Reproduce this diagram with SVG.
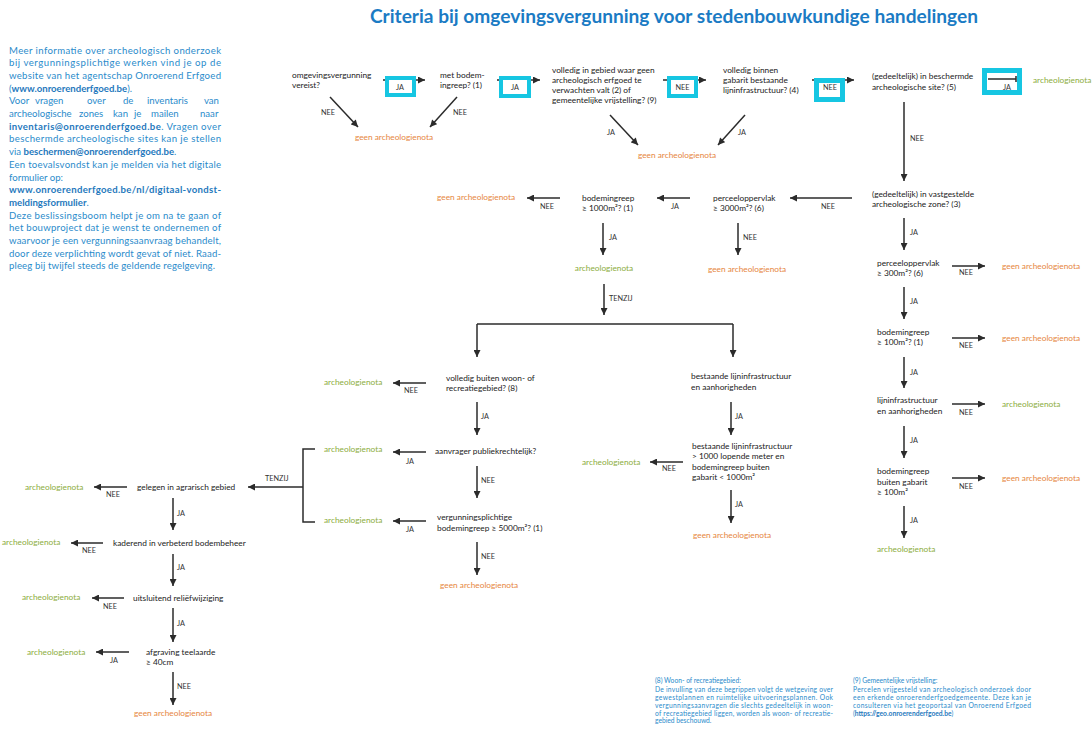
<svg xmlns="http://www.w3.org/2000/svg" width="1092" height="742" viewBox="0 0 1092 742">
<defs>
<marker id="ah" viewBox="0 0 10 10" refX="10" refY="5" markerWidth="8" markerHeight="7" markerUnits="userSpaceOnUse" orient="auto">
<path d="M0,0 L10,5 L0,10 z" fill="#2b2b2b"/>
</marker>
<style>
text{font-family:Lato,"Liberation Sans",sans-serif;}
.t{font-size:8.3px;fill:#222;}
.l{font-size:7.3px;fill:#333;}
.g{font-size:8.3px;fill:#e6863e;}
.a{font-size:8.3px;fill:#8cad3e;}
.b{font-size:9.6px;fill:#2a8bcb;}
.f{font-size:6.7px;fill:#2a8bcb;}
.bold{font-weight:bold;fill:#1f79bd;}
.c line,.c path{stroke:#2b2b2b;stroke-width:1.5;fill:none;}
.c .arr{marker-end:url(#ah);}
.hl{fill:#fff;stroke:#16c6e2;}
</style>
</defs>
<rect width="1092" height="742" fill="#fff"/>

<text x="370" y="23" font-size="19" font-weight="bold" fill="#1b7bc4" textLength="608" lengthAdjust="spacingAndGlyphs">Criteria bij omgevingsvergunning voor stedenbouwkundige handelingen</text>

<g id="info" class="b">
<text class="b" x="9" y="53.5" textLength="212" lengthAdjust="spacing">Meer informatie over archeologisch onderzoek</text>
<text class="b" x="9" y="66.2" textLength="212" lengthAdjust="spacing">bij vergunningsplichtige werken vind je op de</text>
<text class="b" x="9" y="78.9" textLength="212" lengthAdjust="spacing">website van het agentschap Onroerend Erfgoed</text>
<text class="b" x="9" y="91.6">(<tspan class="bold">www.onroerenderfgoed.be</tspan>).</text>
<text class="b" y="104.3"><tspan x="9">Voor</tspan><tspan x="35">vragen</tspan><tspan x="87">over</tspan><tspan x="123">de</tspan><tspan x="147">inventaris</tspan><tspan x="204">van</tspan></text>
<text class="b" y="117"><tspan x="9">archeologische</tspan><tspan x="79">zones</tspan><tspan x="113">kan</tspan><tspan x="134">je</tspan><tspan x="151">mailen</tspan><tspan x="200">naar</tspan></text>
<text class="b" x="9" y="129.7" textLength="212" lengthAdjust="spacing"><tspan class="bold">inventaris@onroerenderfgoed.be</tspan>. Vragen over</text>
<text class="b" x="9" y="142.4" textLength="212" lengthAdjust="spacing">beschermde archeologische sites kan je stellen</text>
<text class="b" x="9" y="155.1">via <tspan class="bold">beschermen@onroerenderfgoed.be</tspan>.</text>
<text class="b" x="9" y="167.8" textLength="212" lengthAdjust="spacing">Een toevalsvondst kan je melden via het digitale</text>
<text class="b" x="9" y="180.5">formulier op:</text>
<text class="b" x="9" y="193.2" textLength="212" lengthAdjust="spacing"><tspan class="bold">www.onroerenderfgoed.be/nl/digitaal-vondst-</tspan></text>
<text class="b" x="9" y="205.9"><tspan class="bold">meldingsformulier</tspan>.</text>
<text class="b" x="9" y="218.6" textLength="212" lengthAdjust="spacing">Deze beslissingsboom helpt je om na te gaan of</text>
<text class="b" x="9" y="231.3" textLength="212" lengthAdjust="spacing">het bouwproject dat je wenst te ondernemen of</text>
<text class="b" x="9" y="244" textLength="212" lengthAdjust="spacing">waarvoor je een vergunningsaanvraag behandelt,</text>
<text class="b" x="9" y="256.7" textLength="212" lengthAdjust="spacing">door deze verplichting wordt gevat of niet. Raad-</text>
<text class="b" x="9" y="269.4" textLength="206" lengthAdjust="spacing">pleeg bij twijfel steeds de geldende regelgeving.</text>
</g>

<g id="connectors" class="c">
<line class="arr" x1="383" y1="80" x2="425" y2="80"/>
<line class="arr" x1="497" y1="80" x2="540" y2="80"/>
<line class="arr" x1="663" y1="80" x2="706" y2="80"/>
<line class="arr" x1="812" y1="80" x2="854" y2="80"/>
<line class="arr" x1="330" y1="97" x2="358" y2="127"/>
<line class="arr" x1="457" y1="97" x2="430" y2="127"/>
<line class="arr" x1="610" y1="115" x2="638" y2="145"/>
<line class="arr" x1="745" y1="115" x2="718" y2="145"/>
<line class="arr" x1="904" y1="102" x2="904" y2="181"/>
<line class="arr" x1="852" y1="198" x2="790" y2="198"/>
<line class="arr" x1="690" y1="198" x2="657" y2="198"/>
<line class="arr" x1="560" y1="198" x2="527" y2="198"/>
<line class="arr" x1="603" y1="223" x2="603" y2="255"/>
<line class="arr" x1="738" y1="223" x2="738" y2="255"/>
<line class="arr" x1="604" y1="284" x2="604" y2="315"/>
<path d="M477,324 H733"/>
<line class="arr" x1="477" y1="324" x2="477" y2="357"/>
<line class="arr" x1="733" y1="324" x2="733" y2="357"/>
<line class="arr" x1="904" y1="218" x2="904" y2="250"/>
<line class="arr" x1="952" y1="266" x2="985" y2="266"/>
<line class="arr" x1="904" y1="287" x2="904" y2="319"/>
<line class="arr" x1="952" y1="338" x2="985" y2="338"/>
<line class="arr" x1="904" y1="357" x2="904" y2="388"/>
<line class="arr" x1="952" y1="404" x2="985" y2="404"/>
<line class="arr" x1="904" y1="426" x2="904" y2="458"/>
<line class="arr" x1="952" y1="478" x2="985" y2="478"/>
<line class="arr" x1="904" y1="506" x2="904" y2="538"/>
<line class="arr" x1="426" y1="383" x2="393" y2="383"/>
<line class="arr" x1="477" y1="402" x2="477" y2="435"/>
<line class="arr" x1="426" y1="452" x2="393" y2="452"/>
<line class="arr" x1="477" y1="466" x2="477" y2="498"/>
<line class="arr" x1="426" y1="521" x2="393" y2="521"/>
<line class="arr" x1="477" y1="542" x2="477" y2="575"/>
<path d="M315,449 H303 V522 H315"/>
<line class="arr" x1="303" y1="487" x2="248" y2="487"/>
<line class="arr" x1="731" y1="402" x2="731" y2="435"/>
<line class="arr" x1="683" y1="462" x2="650" y2="462"/>
<line class="arr" x1="731" y1="490" x2="731" y2="523"/>
<line class="arr" x1="127" y1="487" x2="94" y2="487"/>
<line class="arr" x1="173" y1="498" x2="173" y2="530"/>
<line class="arr" x1="103" y1="543" x2="71" y2="543"/>
<line class="arr" x1="173" y1="554" x2="173" y2="586"/>
<line class="arr" x1="124" y1="598" x2="92" y2="598"/>
<line class="arr" x1="173" y1="608" x2="173" y2="642"/>
<line class="arr" x1="129" y1="652" x2="96" y2="652"/>
<line class="arr" x1="173" y1="672" x2="173" y2="705"/>
</g>

<g id="highlights">
<rect class="hl" x="387" y="78" width="27" height="17" stroke-width="4"/>
<rect class="hl" x="501" y="78" width="28" height="18" stroke-width="4"/>
<rect class="hl" x="669" y="78" width="27" height="18" stroke-width="4"/>
<rect class="hl" x="816.5" y="80.5" width="26" height="19" stroke-width="5"/>
<rect class="hl" x="984.5" y="70.5" width="35" height="22" stroke-width="5"/>
<g class="c"><path d="M988,79 H1016 M1016,76 V82"/></g>
</g>

<g id="edge-labels">
<text class="l" x="400" y="89.5" text-anchor="middle">JA</text>
<text class="l" x="515" y="90" text-anchor="middle">JA</text>
<text class="l" x="682.5" y="90" text-anchor="middle">NEE</text>
<text class="l" x="830" y="90" text-anchor="middle">NEE</text>
<text class="l" x="1007" y="90" text-anchor="middle">JA</text>
<text class="l" x="321" y="115">NEE</text>
<text class="l" x="453" y="115">NEE</text>
<text class="l" x="607" y="135">JA</text>
<text class="l" x="738" y="135">JA</text>
<text class="l" x="910" y="141">NEE</text>
<text class="l" x="821" y="209">NEE</text>
<text class="l" x="671" y="209">JA</text>
<text class="l" x="540" y="209">NEE</text>
<text class="l" x="609" y="240">JA</text>
<text class="l" x="743" y="240">NEE</text>
<text class="l" x="609" y="301">TENZIJ</text>
<text class="l" x="910" y="235">JA</text>
<text class="l" x="959" y="275">NEE</text>
<text class="l" x="910" y="304">JA</text>
<text class="l" x="959" y="348">NEE</text>
<text class="l" x="910" y="375">JA</text>
<text class="l" x="959" y="415">NEE</text>
<text class="l" x="910" y="443">JA</text>
<text class="l" x="959" y="489">NEE</text>
<text class="l" x="910" y="523">JA</text>
<text class="l" x="404" y="393">NEE</text>
<text class="l" x="481" y="419">JA</text>
<text class="l" x="406" y="464">JA</text>
<text class="l" x="481" y="483">NEE</text>
<text class="l" x="406" y="532">JA</text>
<text class="l" x="481" y="559">NEE</text>
<text class="l" x="735" y="419">JA</text>
<text class="l" x="662" y="471">NEE</text>
<text class="l" x="735" y="507">JA</text>
<text class="l" x="265" y="481">TENZIJ</text>
<text class="l" x="106" y="497">NEE</text>
<text class="l" x="177" y="516">JA</text>
<text class="l" x="82" y="553">NEE</text>
<text class="l" x="177" y="570">JA</text>
<text class="l" x="103" y="609">NEE</text>
<text class="l" x="177" y="626">JA</text>
<text class="l" x="110" y="663">JA</text>
<text class="l" x="177" y="689">NEE</text>
</g>

<g id="n-omgevingsvergunning"><text class="t" x="292" y="78">omgevingsvergunning</text><text class="t" x="292" y="88">vereist?</text></g>
<g id="n-bodemingreep1"><text class="t" x="440" y="78">met bodem-</text><text class="t" x="440" y="88">ingreep? (1)</text></g>
<g id="n-gebied"><text class="t" x="552" y="73">volledig in gebied waar geen</text><text class="t" x="552" y="83">archeologisch erfgoed te</text><text class="t" x="552" y="93">verwachten valt (2) of</text><text class="t" x="552" y="103">gemeentelijke vrijstelling? (9)</text></g>
<g id="n-gabarit"><text class="t" x="723" y="73">volledig binnen</text><text class="t" x="723" y="83">gabarit bestaande</text><text class="t" x="723" y="93">lijninfrastructuur? (4)</text></g>
<g id="n-site"><text class="t" x="872" y="79">(gedeeltelijk) in beschermde</text><text class="t" x="872" y="90">archeologische site? (5)</text></g>
<g id="r-site"><text class="a" x="1033" y="83">archeologienota</text></g>
<g id="r-top1"><text class="g" x="394" y="140" text-anchor="middle">geen archeologienota</text></g>
<g id="r-top2"><text class="g" x="677" y="158" text-anchor="middle">geen archeologienota</text></g>

<g id="n-zone"><text class="t" x="872" y="197">(gedeeltelijk) in vastgestelde</text><text class="t" x="872" y="207">archeologische zone? (3)</text></g>
<g id="n-perceel3000"><text class="t" x="713" y="201">perceeloppervlak</text><text class="t" x="713" y="211">≥ 3000m²? (6)</text></g>
<g id="n-bodem1000"><text class="t" x="582" y="201">bodemingreep</text><text class="t" x="582" y="211">≥ 1000m²? (1)</text></g>
<g id="r-b1000nee"><text class="g" x="437" y="200">geen archeologienota</text></g>
<g id="r-b1000ja"><text class="a" x="604" y="271" text-anchor="middle">archeologienota</text></g>
<g id="r-p3000nee"><text class="g" x="747" y="272" text-anchor="middle">geen archeologienota</text></g>

<g id="n-perceel300"><text class="t" x="877" y="266">perceeloppervlak</text><text class="t" x="877" y="276">≥ 300m²? (6)</text></g>
<g id="r-p300"><text class="g" x="1002" y="269">geen archeologienota</text></g>
<g id="n-bodem100"><text class="t" x="877" y="335">bodemingreep</text><text class="t" x="877" y="345">≥ 100m²? (1)</text></g>
<g id="r-b100"><text class="g" x="1002" y="341">geen archeologienota</text></g>
<g id="n-lijn"><text class="t" x="877" y="403">lijninfrastructuur</text><text class="t" x="877" y="414">en aanhorigheden</text></g>
<g id="r-lijn"><text class="a" x="1002" y="407">archeologienota</text></g>
<g id="n-buitengabarit"><text class="t" x="877" y="474">bodemingreep</text><text class="t" x="877" y="485">buiten gabarit</text><text class="t" x="877" y="495">≥ 100m²</text></g>
<g id="r-bg"><text class="g" x="1002" y="481">geen archeologienota</text></g>
<g id="r-bgja"><text class="a" x="877" y="552">archeologienota</text></g>

<g id="n-woon"><text class="t" x="446" y="381">volledig buiten woon- of</text><text class="t" x="446" y="391">recreatiegebied? (8)</text></g>
<g id="r-woon"><text class="a" x="324" y="385">archeologienota</text></g>
<g id="n-publiek"><text class="t" x="435" y="454">aanvrager publiekrechtelijk?</text></g>
<g id="r-publiek"><text class="a" x="324" y="452">archeologienota</text></g>
<g id="n-5000"><text class="t" x="437" y="520">vergunningsplichtige</text><text class="t" x="437" y="531">bodemingreep ≥ 5000m²? (1)</text></g>
<g id="r-5000ja"><text class="a" x="324" y="523">archeologienota</text></g>
<g id="r-5000nee"><text class="g" x="440" y="588">geen archeologienota</text></g>

<g id="n-bestaande"><text class="t" x="691" y="379">bestaande lijninfrastructuur</text><text class="t" x="691" y="390">en aanhorigheden</text></g>
<g id="n-1000m"><text class="t" x="692" y="449">bestaande lijninfrastructuur</text><text class="t" x="692" y="459">&gt; 1000 lopende meter en</text><text class="t" x="692" y="470">bodemingreep buiten</text><text class="t" x="692" y="480">gabarit &lt; 1000m²</text></g>
<g id="r-1000nee"><text class="a" x="582" y="465">archeologienota</text></g>
<g id="r-1000ja"><text class="g" x="693" y="538">geen archeologienota</text></g>

<g id="n-agrarisch"><text class="t" x="137" y="490">gelegen in agrarisch gebied</text></g>
<g id="r-agrarisch"><text class="a" x="25" y="490">archeologienota</text></g>
<g id="n-kaderend"><text class="t" x="113" y="546">kaderend in verbeterd bodembeheer</text></g>
<g id="r-kaderend"><text class="a" x="2" y="545">archeologienota</text></g>
<g id="n-relief"><text class="t" x="133" y="601">uitsluitend reliëfwijziging</text></g>
<g id="r-relief"><text class="a" x="22" y="600">archeologienota</text></g>
<g id="n-teelaarde"><text class="t" x="146" y="655">afgraving teelaarde</text><text class="t" x="146" y="665">≥ 40cm</text></g>
<g id="r-teelaarde"><text class="a" x="27" y="655">archeologienota</text></g>
<g id="r-teelaardenee"><text class="g" x="134" y="716">geen archeologienota</text></g>

<g id="footnote8">
<text class="f" x="655" y="683">(8) Woon- of recreatiegebied:</text>
<text class="f" x="655" y="692" textLength="178" lengthAdjust="spacing">De invulling van deze begrippen volgt de wetgeving over</text>
<text class="f" x="655" y="700" textLength="178" lengthAdjust="spacing">gewestplannen en ruimtelijke uitvoeringsplannen. Ook</text>
<text class="f" x="655" y="707.5" textLength="178" lengthAdjust="spacing">vergunningsaanvragen die slechts gedeeltelijk in woon-</text>
<text class="f" x="655" y="715.5" textLength="178" lengthAdjust="spacing">of recreatiegebied liggen, worden als woon- of recreatie-</text>
<text class="f" x="655" y="723">gebied beschouwd.</text>
</g>
<g id="footnote9">
<text class="f" x="853" y="683">(9) Gemeentelijke vrijstelling:</text>
<text class="f" x="853" y="692" textLength="178" lengthAdjust="spacing">Percelen vrijgesteld van archeologisch onderzoek door</text>
<text class="f" x="853" y="700" textLength="178" lengthAdjust="spacing">een erkende onroerenderfgoedgemeente. Deze kan je</text>
<text class="f" x="853" y="707.5" textLength="178" lengthAdjust="spacing">consulteren via het geoportaal van Onroerend Erfgoed</text>
<text class="f" x="853" y="715.5">(<tspan class="bold">https://geo.onroerenderfgoed.be</tspan>)</text>
</g>
</svg>
